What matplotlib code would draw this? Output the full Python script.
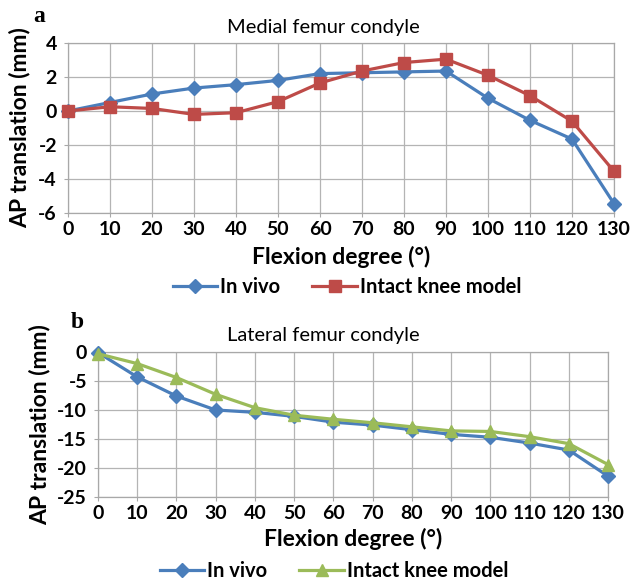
import matplotlib
matplotlib.use("Agg")
import matplotlib.pyplot as plt

flexion = [0, 10, 20, 30, 40, 50, 60, 70, 80, 90, 100, 110, 120, 130]

medial_in_vivo = [0.0, 0.5, 1.0, 1.35, 1.55, 1.8, 2.2, 2.25, 2.3, 2.35, 0.75, -0.55, -1.65, -5.45]
medial_model = [0.0, 0.25, 0.15, -0.2, -0.1, 0.55, 1.65, 2.35, 2.85, 3.05, 2.1, 0.9, -0.6, -3.55]

lateral_in_vivo = [-0.1, -4.3, -7.6, -10.0, -10.4, -11.1, -12.1, -12.6, -13.4, -14.2, -14.7, -15.7, -16.9, -21.4]
lateral_model = [-0.3, -2.0, -4.4, -7.3, -9.6, -10.9, -11.6, -12.2, -12.9, -13.6, -13.7, -14.6, -15.8, -19.4]

medial_yticks = [-6, -4, -2, 0, 2, 4]
lateral_yticks = [-25, -20, -15, -10, -5, 0]

BLUE = "#4a7ebb"
RED = "#be4b48"
GREEN = "#9bbb59"
FONT = ["Lato", "DejaVu Sans"]
W, H = 632, 581

fig = plt.figure(figsize=(6.32, 5.81), dpi=100)
fig.patch.set_facecolor("white")


def axes_px(x0, x1, y0, y1):
    return fig.add_axes([x0 / W, 1 - y1 / H, (x1 - x0) / W, (y1 - y0) / H])


ax1 = axes_px(68, 614, 43, 213)
ax2 = axes_px(98, 608, 352, 497)


def style(ax, yticks, title, title_y, xlabel_y, ylabel_x, legend_xy):
    ax.set_xlim(0, 130)
    ax.set_ylim(yticks[0], yticks[-1])
    ax.set_xticks(flexion)
    ax.set_yticks(yticks)
    ax.yaxis.set_major_formatter(matplotlib.ticker.FuncFormatter(lambda v, p: "%d" % v))
    ax.grid(True, color="#b4b4b4", linewidth=0.9)
    ax.set_axisbelow(True)
    for s in ax.spines.values():
        s.set_color("#a8a8a8")
        s.set_linewidth(0.9)
    ax.tick_params(axis="y", length=3, color="#a8a8a8", pad=5)
    ax.tick_params(axis="x", length=3, color="#a8a8a8", pad=2.5)
    for lab in ax.get_xticklabels() + ax.get_yticklabels():
        lab.set_family(FONT)
        lab.set_fontweight("bold")
        lab.set_fontsize(14)
    fig.text(0.511, 1 - title_y / H, title, family=FONT, fontsize=14.5,
             ha="center", va="center")
    ax.set_xlabel("Flexion degree (°)", family=FONT, fontweight="bold", fontsize=16.5)
    ax.xaxis.label.set_va("center")
    ax.xaxis.set_label_coords(0.5, 1 - xlabel_y / H, transform=matplotlib.transforms.blended_transform_factory(ax.transAxes, fig.transFigure))
    ax.set_ylabel("AP translation (mm)", family=FONT, fontweight="bold", fontsize=16.5)
    ax.yaxis.label.set_va("center")
    ax.yaxis.set_label_coords(ylabel_x / W, 0.5, transform=matplotlib.transforms.blended_transform_factory(fig.transFigure, ax.transAxes))
    ax.legend(loc="center", bbox_to_anchor=(legend_xy[0] / W, 1 - legend_xy[1] / H),
              bbox_transform=fig.transFigure, ncol=2, frameon=False,
              prop={"family": FONT, "weight": "bold", "size": 14.5}, handlelength=2.2,
              handletextpad=0.15, columnspacing=1.6, borderpad=0)


ax1.plot(flexion, medial_in_vivo, color=BLUE, lw=2.3, marker="D", ms=7.5, label="In vivo", clip_on=False, zorder=3)
ax1.plot(flexion, medial_model, color=RED, lw=2.3, marker="s", ms=8.5, label="Intact knee model", clip_on=False, zorder=4)
style(ax1, medial_yticks, "Medial femur condyle", 27, 257, 20, (347, 287))

ax2.plot(flexion, lateral_in_vivo, color=BLUE, lw=2.3, marker="D", ms=7.5, label="In vivo", clip_on=False, zorder=3)
ax2.plot(flexion, lateral_model, color=GREEN, lw=2.3, marker="^", ms=9, label="Intact knee model", clip_on=False, zorder=4)
style(ax2, lateral_yticks, "Lateral femur condyle", 335, 539, 40, (334, 571))

fig.text(39 / W, 1 - 16 / H, "a", family=["Liberation Serif"], fontweight="bold", fontsize=17, ha="center", va="center")
fig.text(77 / W, 1 - 322 / H, "b", family=["Liberation Serif"], fontweight="bold", fontsize=17, ha="center", va="center")

fig.savefig("out.png", dpi=100)
